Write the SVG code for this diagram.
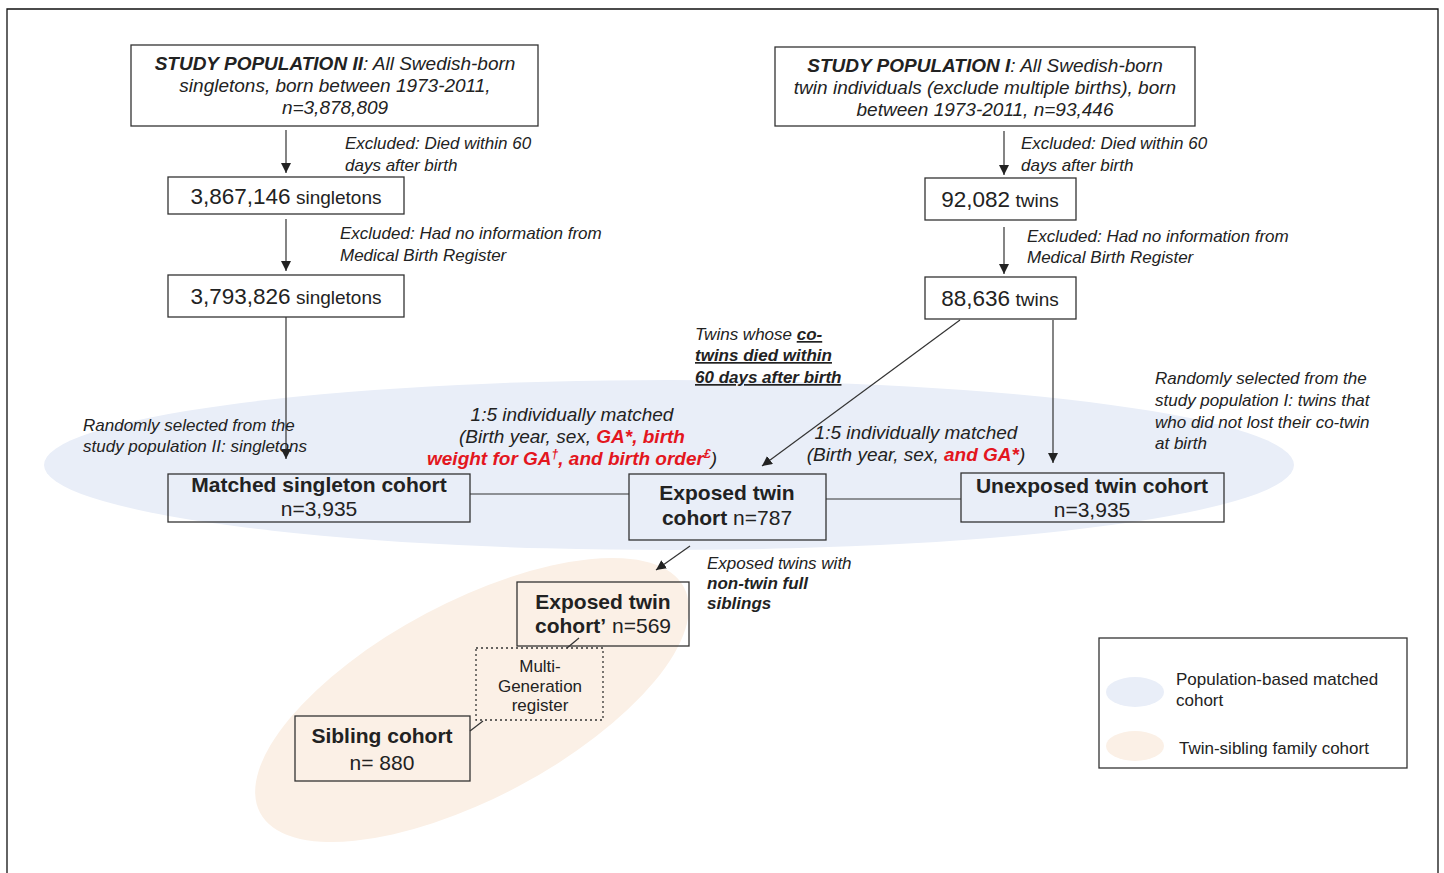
<svg xmlns="http://www.w3.org/2000/svg" width="1444" height="873" viewBox="0 0 1444 873">
<style>
text{font-family:"Liberation Sans",Arial,sans-serif;fill:#222}
.box{fill:#fff;stroke:#333;stroke-width:1.3}
.tbox{fill:none;stroke:#333;stroke-width:1.3}
.it{font-style:italic;font-size:19px}
.lab{font-style:italic;font-size:17px}
.b{font-weight:bold}
.red{fill:#e3161e;font-weight:bold}
.ln{stroke:#333;stroke-width:1.2;fill:none}
.num{font-size:22.5px}
.unit{font-size:19px}
.head{font-size:21px}
.leg{font-size:17px}
</style>
<defs>
<marker id="ah" viewBox="0 0 10 10" refX="10" refY="5" markerWidth="10" markerHeight="10" markerUnits="userSpaceOnUse" orient="auto">
<path d="M0,0 L10,5 L0,10 z" fill="#222"/>
</marker>
</defs>
<rect x="0" y="0" width="1444" height="873" fill="#fff"/>
<path d="M7,873 V9 H1438 V873" fill="none" stroke="#111" stroke-width="1.3"/>

<ellipse cx="669" cy="465" rx="625" ry="85" fill="#e9eef8"/>
<ellipse cx="472" cy="700" rx="240" ry="98" transform="rotate(-28 472 700)" fill="#fbf0e6"/>

<g id="connectors">
<line class="ln" x1="286" y1="130" x2="286" y2="173" marker-end="url(#ah)"/>
<line class="ln" x1="286" y1="219" x2="286" y2="271" marker-end="url(#ah)"/>
<line class="ln" x1="286" y1="317" x2="286" y2="459" marker-end="url(#ah)"/>
<line class="ln" x1="1004" y1="131" x2="1004" y2="175" marker-end="url(#ah)"/>
<line class="ln" x1="1004" y1="227" x2="1004" y2="274" marker-end="url(#ah)"/>
<line class="ln" x1="960" y1="320" x2="762" y2="466" marker-end="url(#ah)" stroke-width="0.9"/>
<line class="ln" x1="1053" y1="320" x2="1053" y2="463" marker-end="url(#ah)"/>
<line class="ln" x1="470" y1="494" x2="629" y2="494"/>
<line class="ln" x1="826" y1="499" x2="961" y2="499"/>
<line class="ln" x1="690" y1="546" x2="656" y2="570" marker-end="url(#ah)"/>
<line class="ln" x1="579" y1="638" x2="567" y2="648" stroke-width="1"/>
<line class="ln" x1="483" y1="721" x2="470" y2="731" stroke-width="1"/>
</g>

<g id="study-pop-2">
<rect class="box" x="131" y="45" width="407" height="81"/>
<text class="it" x="335" y="70" text-anchor="middle"><tspan class="b">STUDY POPULATION II</tspan>: All Swedish-born</text>
<text class="it" x="335" y="92" text-anchor="middle">singletons, born between 1973-2011,</text>
<text class="it" x="335" y="114" text-anchor="middle">n=3,878,809</text>
</g>

<g id="study-pop-1">
<rect class="box" x="775" y="47" width="420" height="79"/>
<text class="it" x="985" y="72" text-anchor="middle"><tspan class="b">STUDY POPULATION I</tspan>: All Swedish-born</text>
<text class="it" x="985" y="94" text-anchor="middle">twin individuals (exclude multiple births), born</text>
<text class="it" x="985" y="116" text-anchor="middle">between 1973-2011, n=93,446</text>
</g>

<g id="excl-1">
<text class="lab" x="345" y="149">Excluded: Died within 60</text>
<text class="lab" x="345" y="171">days after birth</text>
</g>
<g id="singletons-1">
<rect class="box" x="168" y="177" width="236" height="37"/>
<text x="286" y="204" text-anchor="middle"><tspan class="num">3,867,146</tspan><tspan class="unit"> singletons</tspan></text>
</g>
<g id="excl-2">
<text class="lab" x="340" y="239">Excluded: Had no information from</text>
<text class="lab" x="340" y="261">Medical Birth Register</text>
</g>
<g id="singletons-2">
<rect class="box" x="168" y="275" width="236" height="42"/>
<text x="286" y="304" text-anchor="middle"><tspan class="num">3,793,826</tspan><tspan class="unit"> singletons</tspan></text>
</g>

<g id="excl-3">
<text class="lab" x="1021" y="149">Excluded: Died within 60</text>
<text class="lab" x="1021" y="171">days after birth</text>
</g>
<g id="twins-1">
<rect class="box" x="925" y="178" width="151" height="42"/>
<text x="1000" y="207" text-anchor="middle"><tspan class="num">92,082</tspan><tspan class="unit"> twins</tspan></text>
</g>
<g id="excl-4">
<text class="lab" x="1027" y="242">Excluded: Had no information from</text>
<text class="lab" x="1027" y="263">Medical Birth Register</text>
</g>
<g id="twins-2">
<rect class="box" x="925" y="277" width="151" height="42"/>
<text x="1000" y="306" text-anchor="middle"><tspan class="num">88,636</tspan><tspan class="unit"> twins</tspan></text>
</g>

<g id="label-cotwins">
<text class="lab" x="695" y="340">Twins whose <tspan class="b" text-decoration="underline">co-</tspan></text>
<text class="lab b" x="695" y="361" text-decoration="underline">twins died within </text>
<text class="lab b" x="695" y="383" text-decoration="underline">60 days after birth</text>
</g>

<g id="label-random-2">
<text class="lab" x="83" y="431">Randomly selected from the</text>
<text class="lab" x="83" y="452">study population II: singletons</text>
</g>

<g id="label-match-1">
<text class="it" x="572" y="421" text-anchor="middle">1:5 individually matched</text>
<text class="it" x="572" y="443" text-anchor="middle">(Birth year, sex, <tspan class="red">GA*, birth</tspan></text>
<text class="it" x="572" y="465" text-anchor="middle"><tspan class="red">weight for GA</tspan><tspan class="red" font-size="12" dy="-7">†</tspan><tspan class="red" dy="7">, and birth order</tspan><tspan class="red" font-size="12" dy="-7">£</tspan><tspan dy="7">)</tspan></text>
</g>

<g id="label-match-2">
<text class="it" x="916" y="439" text-anchor="middle">1:5 individually matched</text>
<text class="it" x="916" y="461" text-anchor="middle">(Birth year, sex, <tspan class="red">and GA*</tspan>)</text>
</g>

<g id="label-random-1">
<text class="lab" x="1155" y="384">Randomly selected from the</text>
<text class="lab" x="1155" y="406">study population I: twins that</text>
<text class="lab" x="1155" y="428">who did not lost their co-twin</text>
<text class="lab" x="1155" y="449">at birth</text>
</g>

<g id="matched-singleton">
<rect class="tbox" x="168" y="474" width="302" height="48"/>
<text class="head b" x="319" y="492" text-anchor="middle">Matched singleton cohort</text>
<text class="head" x="319" y="516" text-anchor="middle">n=3,935</text>
</g>

<g id="exposed-twin">
<rect class="tbox" x="629" y="474" width="197" height="66"/>
<text class="head b" x="727" y="500" text-anchor="middle">Exposed twin</text>
<text class="head" x="727" y="525" text-anchor="middle"><tspan class="b">cohort</tspan> n=787</text>
</g>

<g id="unexposed-twin">
<rect class="tbox" x="961" y="473" width="263" height="49"/>
<text class="head b" x="1092" y="493" text-anchor="middle">Unexposed twin cohort</text>
<text class="head" x="1092" y="517" text-anchor="middle">n=3,935</text>
</g>

<g id="label-siblings">
<text class="lab" x="707" y="569">Exposed twins with</text>
<text class="lab b" x="707" y="589">non-twin full</text>
<text class="lab b" x="707" y="609">siblings</text>
</g>

<g id="exposed-twin-prime">
<rect class="tbox" x="517" y="582" width="172" height="64"/>
<text class="head b" x="603" y="609" text-anchor="middle">Exposed twin</text>
<text class="head" x="603" y="633" text-anchor="middle"><tspan class="b">cohort’</tspan> n=569</text>
</g>

<g id="multi-generation">
<rect x="476" y="648" width="127" height="72" fill="none" stroke="#333" stroke-width="1.3" stroke-dasharray="2,3"/>
<text class="leg" x="540" y="672" text-anchor="middle">Multi-</text>
<text class="leg" x="540" y="692" text-anchor="middle">Generation</text>
<text class="leg" x="540" y="711" text-anchor="middle">register</text>
</g>

<g id="sibling-cohort">
<rect class="tbox" x="295" y="716" width="175" height="65"/>
<text class="head b" x="382" y="743" text-anchor="middle">Sibling cohort</text>
<text class="head" x="382" y="770" text-anchor="middle">n= 880</text>
</g>

<g id="legend">
<rect x="1099" y="638" width="308" height="130" fill="#fff" stroke="#333" stroke-width="1.3"/>
<ellipse cx="1135" cy="692" rx="29" ry="15" fill="#e9eef8"/>
<ellipse cx="1135" cy="746" rx="29" ry="15" fill="#fbf0e6"/>
<text class="leg" x="1176" y="685">Population-based matched</text>
<text class="leg" x="1176" y="706">cohort</text>
<text class="leg" x="1179" y="754">Twin-sibling family cohort</text>
</g>
</svg>
